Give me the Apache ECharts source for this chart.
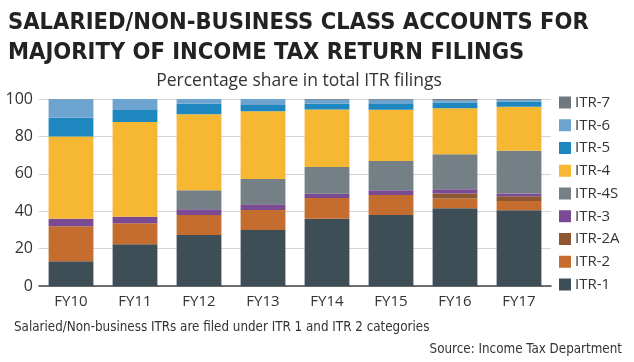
<!DOCTYPE html>
<html><head><meta charset="utf-8">
<script src="https://cdn.jsdelivr.net/npm/echarts@6/dist/echarts.min.js"></script>
<style>html,body{margin:0;padding:0;background:#fff}#c{width:634px;height:362px}</style>
</head><body><div id="c"></div>
<script>
const categories = ['FY10','FY11','FY12','FY13','FY14','FY15','FY16','FY17'];
const seriesNames = ['ITR-1','ITR-2','ITR-2A','ITR-3','ITR-4S','ITR-4','ITR-5','ITR-6','ITR-7'];
const itr1  = [13.2, 22.3, 27.3, 30.0, 36.0, 38.0, 41.6, 40.5];
const itr2  = [18.8, 11.3, 10.7, 10.7, 11.1, 10.7, 5.2, 4.9];
const itr2a = [0, 0, 0, 0, 0, 0, 2.7, 2.6];
const itr3  = [4.0, 3.4, 3.0, 3.0, 2.2, 2.5, 2.3, 1.5];
const itr4s = [0, 0, 10.2, 13.5, 14.4, 15.6, 18.6, 22.8];
const itr4  = [44.0, 50.7, 40.7, 36.2, 30.7, 27.5, 24.6, 23.6];
const itr5  = [10.0, 6.4, 5.5, 3.4, 3.0, 3.0, 3.0, 2.7];
const itr6  = [9.8, 5.9, 2.6, 3.2, 2.2, 2.3, 1.3, 1.0];
const itr7  = [0.2, 0, 0, 0, 0.4, 0.4, 0.7, 0.4];
const yTicks = [0, 20, 40, 60, 80, 100];

const values = [itr1, itr2, itr2a, itr3, itr4s, itr4, itr5, itr6, itr7];
const colors = ['#3e4e57','#c56d2f','#8c5731','#7a4b93','#747f86','#f6b733','#1f87c0','#6da4cf','#6e787e'];

const narrow = '"DejaVu Sans Condensed","Liberation Sans Narrow",sans-serif';
const body = '"Open Sans",sans-serif';

const chart = echarts.init(document.getElementById('c'), null, {renderer:'canvas'});
chart.setOption({
  animation: false,
  title: [
    {text: 'SALARIED/NON-BUSINESS CLASS ACCOUNTS FOR\nMAJORITY OF INCOME TAX RETURN FILINGS', left: 3, top: 3,
     textStyle: {fontFamily: narrow, fontWeight: 'bold', fontSize: 23.5, lineHeight: 30, color: '#222'}},
    {text: 'Percentage share in total ITR filings', left: 294, top: 67, textAlign: 'center',
     textStyle: {fontFamily: body, fontWeight: 'normal', fontSize: 17.5, color: '#333'}},
    {text: 'Salaried/Non-business ITRs are filed under ITR 1 and ITR 2 categories', left: 9, top: 316,
     textStyle: {fontFamily: narrow, fontWeight: 'normal', fontSize: 13.3, color: '#333'}},
    {text: 'Source: Income Tax Department', right: 7, top: 338,
     textStyle: {fontFamily: narrow, fontWeight: 'normal', fontSize: 13.3, color: '#333'}}
  ],
  legend: {
    orient: 'vertical', left: 554, top: 90,
    data: seriesNames.slice().reverse(),
    itemWidth: 12, itemHeight: 12, itemGap: 7.75, icon: 'rect',
    textStyle: {fontFamily: body, fontSize: 15, color: '#333', padding: [0,0,0,-1]}
  },
  grid: {left: 39, right: 83, top: 99, bottom: 76},
  xAxis: {
    type: 'category', data: categories,
    axisLine: {lineStyle: {color: '#444', width: 1.5}},
    axisTick: {show: false},
    axisLabel: {fontFamily: body, fontSize: 15, color: '#333', margin: 8}
  },
  yAxis: {
    type: 'value', min: 0, max: 100, interval: 20,
    axisLabel: {fontFamily: body, fontSize: 16, color: '#333', margin: 6,
      formatter: v => yTicks.includes(v) ? String(v) : ''},
    splitLine: {lineStyle: {color: '#d4d4d4', width: 1}},
    axisLine: {show: false}, axisTick: {show: false}
  },
  series: seriesNames.map((n, i) => ({
    name: n, type: 'bar', stack: 'all', data: values[i],
    barCategoryGap: '30%',
    itemStyle: {color: colors[i]}
  }))
});
</script></body></html>
